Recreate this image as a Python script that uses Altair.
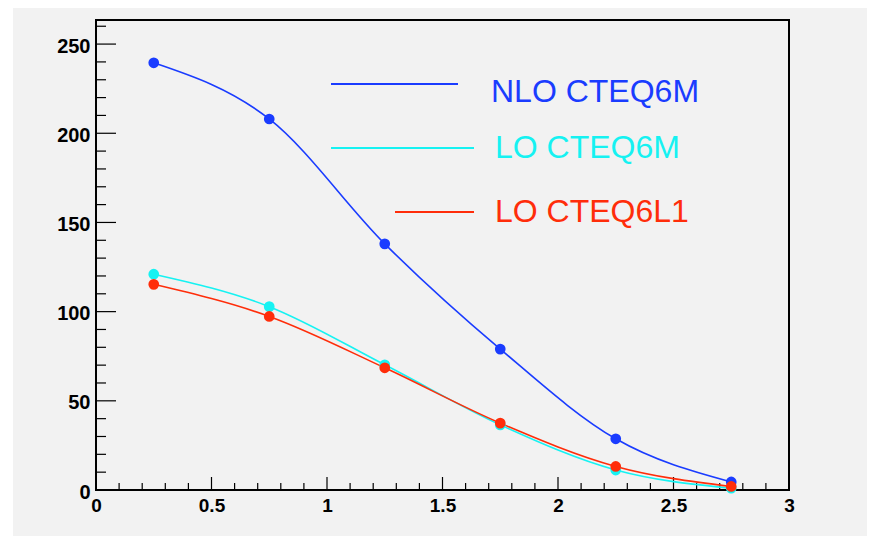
import altair as alt
import pandas as pd

# ---- data ----
x_vals = [0.25, 0.75, 1.25, 1.75, 2.25, 2.75]
nlo_cteq6m = [239.5, 208.0, 138.0, 79.0, 28.7, 4.5]
lo_cteq6m = [121.0, 102.8, 70.2, 36.5, 11.2, 1.0]
lo_cteq6l1 = [115.3, 97.3, 68.5, 37.5, 13.2, 2.0]

series_names = ["NLO CTEQ6M", "LO CTEQ6M", "LO CTEQ6L1"]
series_colors = ["#1a3cff", "#16f2f2", "#ff2d0a"]

y_major = [0, 50, 100, 150, 200, 250]
y_minor = [10, 20, 30, 40, 60, 70, 80, 90, 110, 120, 130, 140, 160, 170, 180,
           190, 210, 220, 230, 240, 260]
x_major = [0, 0.5, 1, 1.5, 2, 2.5, 3]
x_minor = [0.1, 0.2, 0.3, 0.4, 0.6, 0.7, 0.8, 0.9, 1.1, 1.2, 1.3, 1.4, 1.6, 1.7,
           1.8, 1.9, 2.1, 2.2, 2.3, 2.4, 2.6, 2.7, 2.8, 2.9]

W, H = 693, 470
FONT = "Liberation Sans"

rows = []
for name, vals in zip(series_names, [nlo_cteq6m, lo_cteq6m, lo_cteq6l1]):
    for xv, yv in zip(x_vals, vals):
        rows.append({"x": xv, "y": yv, "series": name})
df = pd.DataFrame(rows)

xscale = alt.Scale(domain=[0, 3], nice=False, zero=False)
yscale = alt.Scale(domain=[0, 263.5], nice=False, zero=False)
cscale = alt.Scale(domain=series_names, range=series_colors)

xaxis = alt.Axis(values=x_major, ticks=False, domain=False, grid=False, title=None,
                 labelFont=FONT, labelFontWeight="bold", labelFontSize=19,
                 labelColor="black", labelPadding=6, labelFlush=False,
                 labelExpr="datum.value == 0 ? '0' : format(datum.value, '.2~f')")
yaxis = alt.Axis(values=y_major, ticks=False, domain=False, grid=False, title=None,
                 labelFont=FONT, labelFontWeight="bold", labelFontSize=20,
                 labelColor="black", labelPadding=6, labelOffset=2)

base = alt.Chart(df)

lines = base.mark_line(interpolate="monotone", strokeWidth=1.6).encode(
    x=alt.X("x:Q", scale=xscale, axis=xaxis),
    y=alt.Y("y:Q", scale=yscale, axis=yaxis),
    color=alt.Color("series:N", scale=cscale, legend=None),
    detail="series:N",
)
points = base.mark_circle(size=115, opacity=1).encode(
    x=alt.X("x:Q", scale=xscale, axis=xaxis),
    y=alt.Y("y:Q", scale=yscale, axis=yaxis),
    color=alt.Color("series:N", scale=cscale, legend=None),
)

# inner ticks (ROOT style)
ymaj = alt.Chart(pd.DataFrame({"y": y_major})).mark_rule(color="black", strokeWidth=1.2).encode(
    y=alt.Y("y:Q", scale=yscale, axis=yaxis), x=alt.value(0), x2=alt.value(20))
ymin = alt.Chart(pd.DataFrame({"y": y_minor})).mark_rule(color="black", strokeWidth=1.2).encode(
    y=alt.Y("y:Q", scale=yscale, axis=yaxis), x=alt.value(0), x2=alt.value(10))
xmaj = alt.Chart(pd.DataFrame({"x": x_major})).mark_rule(color="black", strokeWidth=1.2).encode(
    x=alt.X("x:Q", scale=xscale, axis=xaxis), y=alt.value(H), y2=alt.value(H - 13))
xmin = alt.Chart(pd.DataFrame({"x": x_minor})).mark_rule(color="black", strokeWidth=1.2).encode(
    x=alt.X("x:Q", scale=xscale, axis=xaxis), y=alt.value(H), y2=alt.value(H - 7))

# legend (annotation placed in pixels)
one = pd.DataFrame({"a": [0]})
leg_layers = []
leg_lines = [(235, 362, 64), (235, 378, 128), (299, 378, 192)]
leg_text = [(395, 81.7), (399, 138), (399, 202)]
for name, col, (x1, x2, yy), (tx, ty) in zip(series_names, series_colors, leg_lines, leg_text):
    leg_layers.append(alt.Chart(one).mark_rule(color=col, strokeWidth=2).encode(
        x=alt.value(x1), x2=alt.value(x2), y=alt.value(yy)))
    leg_layers.append(alt.Chart(one).mark_text(
        color=col, font=FONT, fontSize=32, align="left", baseline="alphabetic", text=name
    ).encode(x=alt.value(tx), y=alt.value(ty)))

# page decoration: white strip at left
deco_left = alt.Chart(one).mark_rect(color="white").encode(
    x=alt.value(-88), x2=alt.value(-83), y=alt.value(-12), y2=alt.value(H + 46))

chart = alt.layer(
    deco_left, ymaj, ymin, xmaj, xmin, lines, points, *leg_layers
).properties(
    width=W, height=H,
    autosize=alt.AutoSizeParams(type="none"),
    padding={"left": 88, "top": 12, "right": 78, "bottom": 46},
    background="#f2f2f2",
).configure_view(stroke="black", strokeWidth=2)

chart.save("out.html", embed_options={"renderer": "svg", "actions": False})
